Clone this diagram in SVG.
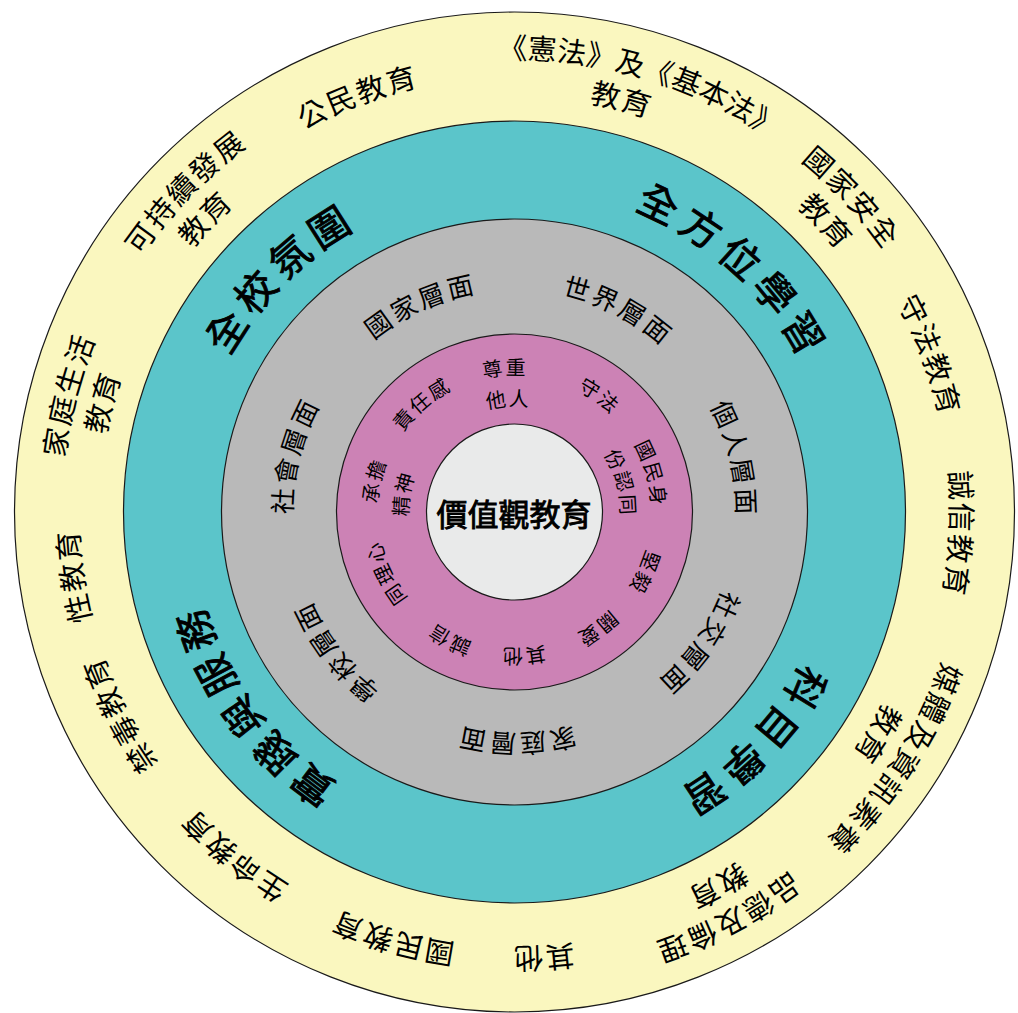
<svg xmlns="http://www.w3.org/2000/svg" xmlns:xlink="http://www.w3.org/1999/xlink" width="1018" height="1013" viewBox="0 0 1018 1013">
<style>
  .ring { stroke:#1a1a1a; stroke-width:1.2; }
  text { font-family:"Noto Sans CJK TC","Noto Sans CJK SC",sans-serif; fill:#000; text-anchor:middle; }
  .y { font-size:29px; letter-spacing:2px; }
  .y0 { letter-spacing:0px; }
  .t { font-size:40px; letter-spacing:7px; stroke:#000; stroke-width:0.9px; }
  .g { font-size:26px; letter-spacing:3px; }
  .p { font-size:20px; letter-spacing:2px; }
  .c { font-size:31px; stroke:#000; stroke-width:0.9px; dominant-baseline:central; }
</style>
<defs>
  <path id="r453" d="M514.5,965 A453,453 0 0 1 514.5,59 A453,453 0 0 1 514.5,965"/>
  <path id="r436" d="M514.5,948 A436,436 0 0 1 514.5,76 A436,436 0 0 1 514.5,948"/>
  <path id="r416" d="M514.5,928 A416,416 0 0 1 514.5,96 A416,416 0 0 1 514.5,928"/>
  <path id="r325" d="M514.5,837 A325,325 0 0 1 514.5,187 A325,325 0 0 1 514.5,837"/>
  <path id="r222" d="M514.5,734 A222,222 0 0 1 514.5,290 A222,222 0 0 1 514.5,734"/>
  <path id="r137" d="M514.5,649 A137,137 0 0 1 514.5,375 A137,137 0 0 1 514.5,649"/>
  <path id="r106" d="M514.5,618 A106,106 0 0 1 514.5,406 A106,106 0 0 1 514.5,618"/>
</defs>
<rect width="1018" height="1013" fill="#ffffff"/>

<g id="ring-outer">
  <circle class="ring" cx="514.5" cy="512" r="500" fill="#FAF7BF"/>
  <g id="lbl-civic"><text class="y" transform="rotate(-20.7 514.5 512)"><textPath href="#r436" startOffset="50%">公民教育</textPath></text></g>
  <g id="lbl-basiclaw">
    <text class="y y0" transform="rotate(16.3 514.5 512)"><textPath href="#r453" startOffset="50%">《憲法》及《基本法》</textPath></text>
    <text class="y" transform="rotate(14.6 514.5 512)"><textPath href="#r416" startOffset="50%">教育</textPath></text>
  </g>
  <g id="lbl-security">
    <text class="y" transform="rotate(47 514.5 512)"><textPath href="#r453" startOffset="50%">國家安全</textPath></text>
    <text class="y" transform="rotate(47 514.5 512)"><textPath href="#r416" startOffset="50%">教育</textPath></text>
  </g>
  <g id="lbl-law"><text class="y" transform="rotate(69.3 514.5 512)"><textPath href="#r436" startOffset="50%">守法教育</textPath></text></g>
  <g id="lbl-integrity"><text class="y" transform="rotate(92.8 514.5 512)"><textPath href="#r436" startOffset="50%">誠信教育</textPath></text></g>
  <g id="lbl-media">
    <text class="y" transform="rotate(123 514.5 512)"><textPath href="#r453" startOffset="50%">媒體及資訊素養</textPath></text>
    <text class="y" transform="rotate(121.5 514.5 512)"><textPath href="#r416" startOffset="50%">教育</textPath></text>
  </g>
  <g id="lbl-moral">
    <text class="y" transform="rotate(152.3 514.5 512)"><textPath href="#r453" startOffset="50%">品德及倫理</textPath></text>
    <text class="y" transform="rotate(151.5 514.5 512)"><textPath href="#r416" startOffset="50%">教育</textPath></text>
  </g>
  <g id="lbl-other-outer"><text class="y" transform="rotate(176.3 514.5 512)"><textPath href="#r436" startOffset="50%">其他</textPath></text></g>
  <g id="lbl-national"><text class="y" transform="rotate(-164.1 514.5 512)"><textPath href="#r436" startOffset="50%">國民教育</textPath></text></g>
  <g id="lbl-life"><text class="y" transform="rotate(-140.8 514.5 512)"><textPath href="#r436" startOffset="50%">生命教育</textPath></text></g>
  <g id="lbl-drug"><text class="y" transform="rotate(-117.2 514.5 512)"><textPath href="#r436" startOffset="50%">禁毒教育</textPath></text></g>
  <g id="lbl-sex"><text class="y" transform="rotate(-98.3 514.5 512)"><textPath href="#r436" startOffset="50%">性教育</textPath></text></g>
  <g id="lbl-family-life">
    <text class="y" transform="rotate(-75.3 514.5 512)"><textPath href="#r453" startOffset="50%">家庭生活</textPath></text>
    <text class="y" transform="rotate(-75.1 514.5 512)"><textPath href="#r416" startOffset="50%">教育</textPath></text>
  </g>
  <g id="lbl-sustain">
    <text class="y" transform="rotate(-45.8 514.5 512)"><textPath href="#r453" startOffset="50%">可持續發展</textPath></text>
    <text class="y" transform="rotate(-46.5 514.5 512)"><textPath href="#r416" startOffset="50%">教育</textPath></text>
  </g>
</g>

<g id="ring-teal">
  <circle class="ring" cx="514.5" cy="512" r="391" fill="#5BC5CA"/>
  <g id="lbl-atmosphere"><text class="t" transform="rotate(-44.9 514.5 512)"><textPath href="#r325" startOffset="50%">全校氛圍</textPath></text></g>
  <g id="lbl-lifewide"><text class="t" transform="rotate(42.2 514.5 512)"><textPath href="#r325" startOffset="50%">全方位學習</textPath></text></g>
  <g id="lbl-subject"><text class="t" transform="rotate(134.1 514.5 512)"><textPath href="#r325" startOffset="50%">科目學習</textPath></text></g>
  <g id="lbl-service"><text class="t" transform="rotate(-126.4 514.5 512)"><textPath href="#r325" startOffset="50%">實踐與服務</textPath></text></g>
</g>

<g id="ring-gray">
  <circle class="ring" cx="514.5" cy="512" r="293" fill="#B9B9B9"/>
  <g id="lbl-nation-level"><text class="g" transform="rotate(-24.4 514.5 512)"><textPath href="#r222" startOffset="50%">國家層面</textPath></text></g>
  <g id="lbl-world-level"><text class="g" transform="rotate(27.2 514.5 512)"><textPath href="#r222" startOffset="50%">世界層面</textPath></text></g>
  <g id="lbl-personal-level"><text class="g" transform="rotate(76.5 514.5 512)"><textPath href="#r222" startOffset="50%">個人層面</textPath></text></g>
  <g id="lbl-social-level"><text class="g" transform="rotate(125.3 514.5 512)"><textPath href="#r222" startOffset="50%">社交層面</textPath></text></g>
  <g id="lbl-family-level"><text class="g" transform="rotate(179.5 514.5 512)"><textPath href="#r222" startOffset="50%">家庭層面</textPath></text></g>
  <g id="lbl-school-level"><text class="g" transform="rotate(-127.9 514.5 512)"><textPath href="#r222" startOffset="50%">學校層面</textPath></text></g>
  <g id="lbl-society-level"><text class="g" transform="rotate(-75.7 514.5 512)"><textPath href="#r222" startOffset="50%">社會層面</textPath></text></g>
</g>

<g id="ring-pink">
  <circle class="ring" cx="514.5" cy="512" r="178" fill="#CC82B5"/>
  <g id="lbl-respect">
    <text class="p" transform="rotate(-3.8 514.5 512)"><textPath href="#r137" startOffset="50%">尊重</textPath></text>
    <text class="p" transform="rotate(-3.1 514.5 512)"><textPath href="#r106" startOffset="50%">他人</textPath></text>
  </g>
  <g id="lbl-lawabiding"><text class="p" transform="rotate(36.2 514.5 512)"><textPath href="#r137" startOffset="50%">守法</textPath></text></g>
  <g id="lbl-identity">
    <text class="p" transform="rotate(74.4 514.5 512)"><textPath href="#r137" startOffset="50%">國民身</textPath></text>
    <text class="p" transform="rotate(74.8 514.5 512)"><textPath href="#r106" startOffset="50%">份認同</textPath></text>
  </g>
  <g id="lbl-perseverance"><text class="p" transform="rotate(114.9 514.5 512)"><textPath href="#r137" startOffset="50%">堅毅</textPath></text></g>
  <g id="lbl-care"><text class="p" transform="rotate(144.7 514.5 512)"><textPath href="#r137" startOffset="50%">關愛</textPath></text></g>
  <g id="lbl-other-inner"><text class="p" transform="rotate(176.5 514.5 512)"><textPath href="#r137" startOffset="50%">其他</textPath></text></g>
  <g id="lbl-honesty"><text class="p" transform="rotate(-152.9 514.5 512)"><textPath href="#r137" startOffset="50%">誠信</textPath></text></g>
  <g id="lbl-empathy"><text class="p" transform="rotate(-115.3 514.5 512)"><textPath href="#r137" startOffset="50%">同理心</textPath></text></g>
  <g id="lbl-commitment">
    <text class="p" transform="rotate(-77.4 514.5 512)"><textPath href="#r137" startOffset="50%">承擔</textPath></text>
    <text class="p" transform="rotate(-80.6 514.5 512)"><textPath href="#r106" startOffset="50%">精神</textPath></text>
  </g>
  <g id="lbl-responsibility"><text class="p" transform="rotate(-40.6 514.5 512)"><textPath href="#r137" startOffset="50%">責任感</textPath></text></g>
</g>

<g id="core">
  <circle class="ring" cx="514.5" cy="512" r="88" fill="#E9EAEA"/>
  <text class="c" x="514" y="512">價值觀教育</text>
</g>

<g id="connectors"></g>
</svg>
